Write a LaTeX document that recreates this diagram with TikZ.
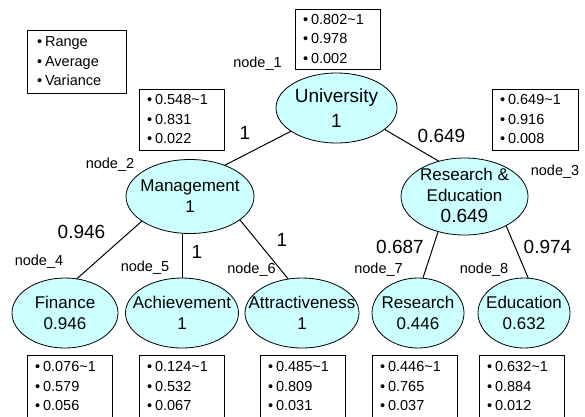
\documentclass[tikz,border=0pt]{standalone}
\usepackage{fontspec}
\setmainfont{Liberation Sans}
\usetikzlibrary{shapes.geometric}
\definecolor{cyanfill}{HTML}{CCFFFF}
\newcommand{\bl}{\textbullet\hspace{3pt}}
\tikzset{
  ell/.style={ellipse, draw=black, line width=0.8pt, fill=cyanfill, inner sep=0pt, outer sep=0pt},
  etxt/.style={align=center, font=\fontsize{17}{21}\selectfont, inner sep=0pt},
  utxt/.style={align=center, font=\fontsize{19}{25}\selectfont, inner sep=0pt},
  edge/.style={draw=black, line width=1pt},
  elab/.style={font=\fontsize{19}{22}\selectfont, inner sep=0pt},
  nlab/.style={font=\fontsize{14.5}{17}\selectfont, inner sep=0pt},
  infobox/.style={draw=black, line width=0.8pt, anchor=north west, inner xsep=8pt, inner ysep=0pt,
    outer sep=0pt, text width=69pt, align=left, minimum height=61pt, font=\fontsize{14.5}{19.5}\selectfont},
}
\begin{document}
\begin{tikzpicture}[x=1pt,y=-1pt]
\clip (0,0) rectangle (585,416);
\fill[white] (0,0) rectangle (585,416);
% ellipses
\node[ell, minimum width=121pt, minimum height=70pt, label={[utxt]center:{University\\1}}] (U) at (336.5,108) {};
\node[ell, minimum width=128pt, minimum height=74pt, label={[etxt]center:{Management\\1}}] (M) at (190,196.5) {};
\node[ell, minimum width=127pt, minimum height=77pt, label={[etxt, yshift=1pt]center:{Research \&\\Education\\\fontsize{19}{23}\selectfont 0.649}}] (R) at (464.5,196.5) {};
\node[ell, minimum width=106pt, minimum height=70pt, label={[etxt]center:{Finance\\0.946}}] (F) at (65,313) {};
\node[ell, minimum width=113pt, minimum height=70pt, label={[etxt]center:{Achievement\\1}}] (A) at (182,313) {};
\node[ell, minimum width=114pt, minimum height=70pt, label={[etxt]center:{Attractiveness\\1}}] (T) at (302,313) {};
\node[ell, minimum width=92pt, minimum height=70pt, label={[etxt]center:{Research\\0.446}}] (S) at (418,313) {};
\node[ell, minimum width=92pt, minimum height=70pt, label={[etxt]center:{Education\\0.632}}] (E) at (524,313) {};
% connectors
\draw[edge] (U.207) -- (M.42);
\draw[edge] (U.336) -- (R.126);
\draw[edge] (M.207) -- (F.71);
\draw[edge] (M.south -| A.north) -- (A.north);
\draw[edge] (M.335) -- (T.112);
\draw[edge] (R.233) -- (S.82);
\draw[edge] (R.325) -- (E.83);
% edge labels
\node[elab] (l1) at (245,133) {1};
\node[elab] (l2) at (441.5,136) {0.649};
\node[elab] (l3) at (81.5,232) {0.946};
\node[elab] (l4) at (197,252) {1};
\node[elab] (l5) at (282,240) {1};
\node[elab] (l6) at (400,247) {0.687};
\node[elab] (l7) at (547.5,247) {0.974};
% node names
\node[nlab] (n1) at (257.5,64) {node\_1};
\node[nlab] (n2) at (110,165) {node\_2};
\node[nlab] (n3) at (555,172) {node\_3};
\node[nlab] (n4) at (39,262) {node\_4};
\node[nlab] (n5) at (145,268) {node\_5};
\node[nlab] (n6) at (251.5,270) {node\_6};
\node[nlab] (n7) at (378.5,270) {node\_7};
\node[nlab] (n8) at (484,270) {node\_8};
% info boxes
\node[infobox, text width=79pt, inner xsep=10pt, minimum height=63pt] (leg) at (27,30) {\bl Range\\\bl Average\\\bl Variance};
\node[infobox, minimum height=60pt] (bU) at (295,9) {\bl 0.802\textasciitilde1\\\bl 0.978\\\bl 0.002};
\node[infobox] (bM) at (139,89) {\bl 0.548\textasciitilde1\\\bl 0.831\\\bl 0.022};
\node[infobox, text width=70pt] (bR) at (492,89) {\bl 0.649\textasciitilde1\\\bl 0.916\\\bl 0.008};
\node[infobox, minimum height=62pt] (bF) at (27,355) {\bl 0.076\textasciitilde1\\\bl 0.579\\\bl 0.056};
\node[infobox, minimum height=62pt] (bA) at (139,355) {\bl 0.124\textasciitilde1\\\bl 0.532\\\bl 0.067};
\node[infobox, minimum height=62pt] (bT) at (260,355) {\bl 0.485\textasciitilde1\\\bl 0.809\\\bl 0.031};
\node[infobox, minimum height=62pt] (bS) at (372,355) {\bl 0.446\textasciitilde1\\\bl 0.765\\\bl 0.037};
\node[infobox, minimum height=62pt] (bE) at (479,355) {\bl 0.632\textasciitilde1\\\bl 0.884\\\bl 0.012};
\end{tikzpicture}
\end{document}
